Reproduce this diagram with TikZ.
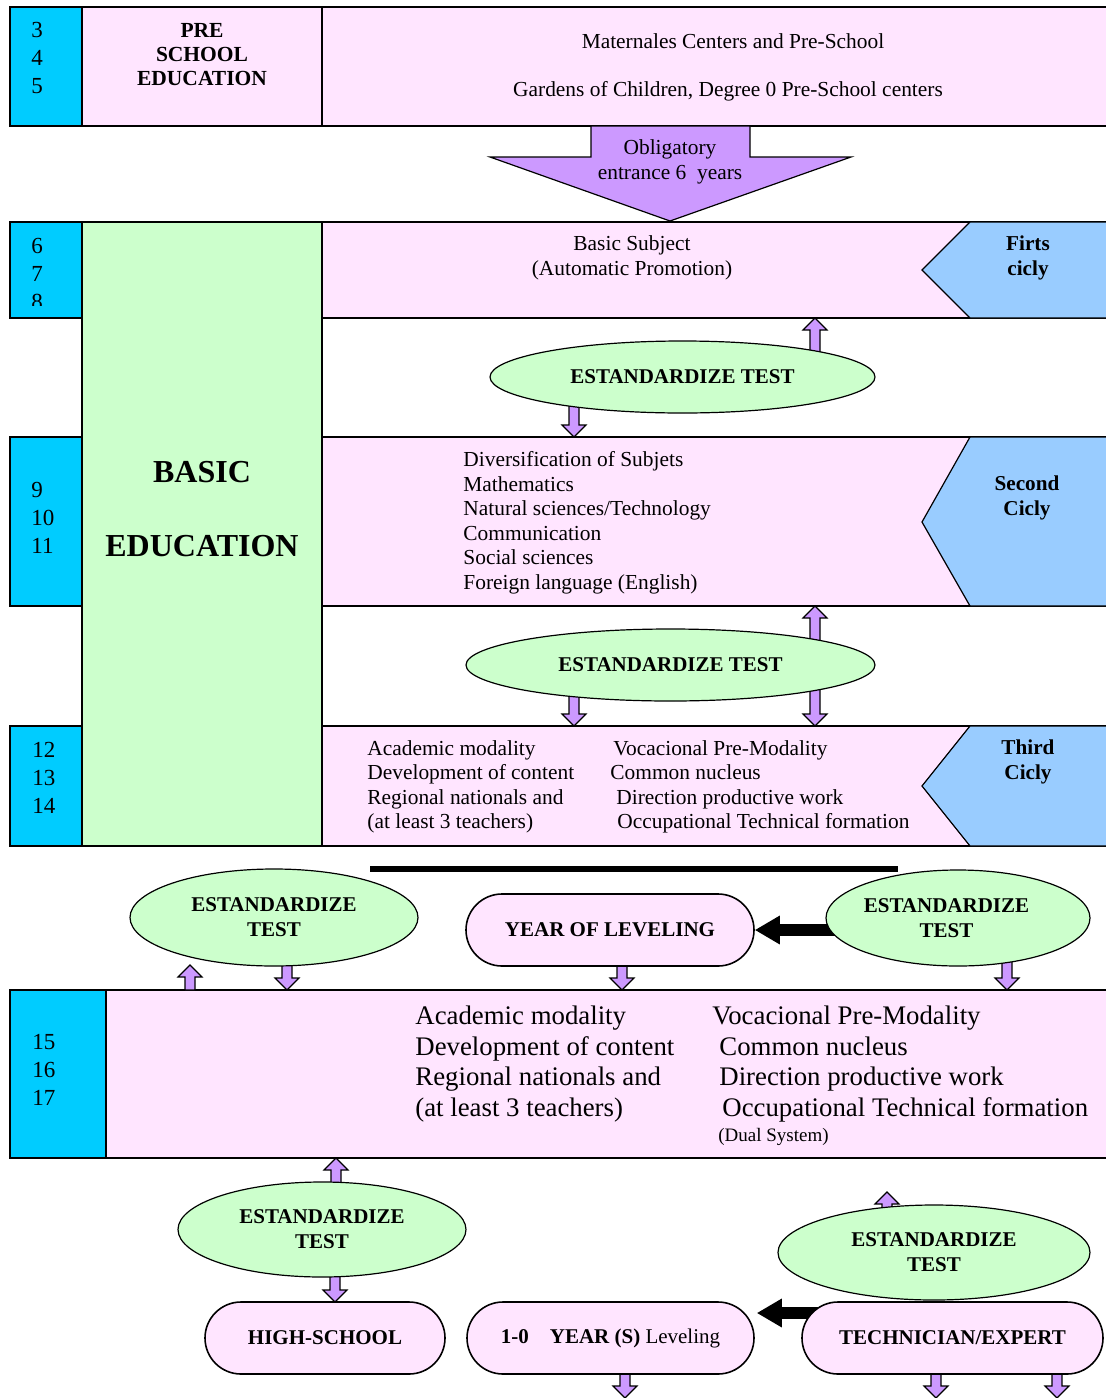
\documentclass[tikz,border=0pt]{standalone}
\usepackage{fontspec}
\setmainfont{Liberation Serif}
\usetikzlibrary{shapes.geometric,arrows.meta,calc}
\definecolor{ageblue}{HTML}{00CCFF}
\definecolor{rowpink}{HTML}{FFE5FF}
\definecolor{basicgreen}{HTML}{CCFFCC}
\definecolor{ciclyblue}{HTML}{99CCFF}
\definecolor{arrowviolet}{HTML}{CC99FF}
\pgfdeclarelayer{bg}
\pgfsetlayers{bg,main}

\tikzset{
  agebox/.style={fill=ageblue,draw=black,line width=1pt},
  rowbox/.style={fill=rowpink,draw=black,line width=1pt},
  ciclybox/.style={fill=ciclyblue,draw=black,line width=0.6pt},
  agetxt/.style={anchor=west,align=left,inner sep=0pt,font=\fontsize{11.5}{14}\selectfont},
  rowtxt/.style={align=center,inner sep=0pt,font=\fontsize{10.7}{12.25}\selectfont},
  listtxt/.style={anchor=west,align=left,inner sep=0pt,font=\fontsize{10.7}{12.25}\selectfont},
  bigtxt/.style={anchor=west,align=left,inner sep=0pt,font=\fontsize{13.4}{15.25}\selectfont},
  ciclytxt/.style={align=center,inner sep=0pt,font=\bfseries\fontsize{10.6}{12.5}\selectfont},
  testlbl/.style={align=center,inner sep=0pt,font=\bfseries\fontsize{10.5}{12.5}\selectfont},
  testoval/.style={ellipse,draw=black,line width=0.6pt,fill=basicgreen,inner sep=0pt,
    align=center,font=\bfseries\fontsize{10.5}{12.5}\selectfont},
  pillbox/.style={rectangle,rounded corners=18pt,draw=black,line width=0.8pt,fill=rowpink,
    minimum height=36pt,inner sep=0pt,font=\bfseries\fontsize{10.5}{12.5}\selectfont},
  blockarrow/.style={fill=arrowviolet,draw=black,line width=0.6pt,line join=miter},
  pusharrow/.style={line width=6pt,-{Triangle[length=12.5pt,width=13.5pt]}}
}

% small block arrows: tip, length (in px)
\newcommand{\downblock}[2]{\filldraw[blockarrow] (#1) -- ++(12,-12) -- ++(-7,0) -- ++(0,-#2+12)
  -- ++(-10,0) -- ++(0,#2-12) -- ++(-7,0) -- cycle;}
\newcommand{\upblock}[2]{\filldraw[blockarrow] (#1) -- ++(12,12) -- ++(-7,0) -- ++(0,#2-12)
  -- ++(-10,0) -- ++(0,-#2+12) -- ++(-7,0) -- cycle;}
\newcommand{\dblblock}[2]{\filldraw[blockarrow] (#1) -- ++(12,12) -- ++(-7,0) -- ++(0,#2-24)
  -- ++(7,0) -- ++(-12,12) -- ++(-12,-12) -- ++(7,0) -- ++(0,-#2+24) -- ++(-7,0) -- cycle;}

\begin{document}
\begin{tikzpicture}[x=0.5pt,y=-0.5pt]
  \useasboundingbox (0,0) rectangle (1105,1398);

  % pre-school row
  \filldraw[agebox] (10,7) rectangle (82,126);
  \filldraw[rowbox] (82,7) rectangle (322,126);
  \filldraw[rowbox] (322,7) rectangle (1112,126);
  \node[agetxt] (age1) at (31,58) {3\\4\\5};
  \node[align=center,inner sep=0pt,font=\bfseries\fontsize{10.75}{12}\selectfont] (pre) at (202,55) {PRE\\SCHOOL\\EDUCATION};
  \node[rowtxt] (mat) at (733,41) {Maternales Centers and Pre-School};
  \node[rowtxt] (gard) at (728,91) {Gardens of Children, Degree 0 Pre-School centers};

  % entrance arrow
  \filldraw[fill=arrowviolet,draw=black,line width=0.6pt] (591,126) -- (750,126) -- (750,157) -- (851,157)
    -- (670,221) -- (490,157) -- (591,157) -- cycle;
  \node[rowtxt] (entr) at (670,162) {Obligatory\\entrance 6~ years};

  % basic education rows
  \filldraw[agebox] (10,222) rectangle (82,318);
  \filldraw[rowbox] (322,222) rectangle (1112,318);
  \filldraw[agebox] (10,437) rectangle (82,606);
  \filldraw[rowbox] (322,437) rectangle (1112,606);
  \filldraw[agebox] (10,726) rectangle (82,846);
  \filldraw[rowbox] (322,726) rectangle (1112,846);
  \filldraw[fill=basicgreen,draw=black,line width=1pt] (82,222) rectangle (322,846);
  \node[font=\bfseries\fontsize{16}{19}\selectfont,inner sep=0pt] (basic) at (202,472) {BASIC};
  \node[font=\bfseries\fontsize{16}{19}\selectfont,inner sep=0pt] (educ) at (202,546) {EDUCATION};

  \begin{scope}
    \clip (10,222) rectangle (82,305);
    \node[agetxt] (age2) at (31,274) {6\\7\\8};
  \end{scope}
  \node[agetxt] (age3) at (31,518) {9\\10\\11};
  \node[agetxt] (age4) at (32,778) {12\\13\\14};

  % cycles
  \filldraw[ciclybox] (1112,222) -- (970,222) -- (922,270) -- (970,318) -- (1112,318);
  \filldraw[ciclybox] (1112,437) -- (970,437) -- (922,522) -- (970,606) -- (1112,606);
  \filldraw[ciclybox] (1112,726) -- (970,726) -- (922,786) -- (970,846) -- (1112,846);
  \node[ciclytxt] (cic1) at (1028,258) {Firts\\cicly};
  \node[ciclytxt] (cic2) at (1027,498) {Second\\Cicly};
  \node[ciclytxt] (cic3) at (1028,762) {Third\\Cicly};

  \node[rowtxt] (basicsub) at (632,258) {Basic Subject\\(Automatic Promotion)};
  \node[listtxt] (divers) at (463,523) {Diversification of Subjets\\Mathematics\\Natural sciences/Technology\\Communication\\Social sciences\\Foreign language (English)};
  \node[listtxt] (acad1) at (367,787) {Academic modality\\Development of content\\Regional nationals and\\(at least 3 teachers)};
  \node[listtxt] (voc1) at (610,787) {\hspace*{1.5pt}Vocacional Pre-Modality\\Common nucleus\\\hspace*{3pt}Direction productive work\\\hspace*{3.5pt}Occupational Technical formation};

  % block arrows between the cycles
  \upblock{815,318}{36}
  \downblock{574,437}{36}
  \dblblock{815,606}{120}
  \downblock{574,726}{32}
  \node[testoval,minimum width=192.5pt,minimum height=36pt] (test1) at (682.5,377) {ESTANDARDIZE TEST};
  \node[testoval,minimum width=204.5pt,minimum height=36pt] (test2) at (670.5,665) {ESTANDARDIZE TEST};

  \draw[line width=3pt] (370,869) -- (898,869);

  % secondary row
  \filldraw[agebox] (10,990) rectangle (106,1158);
  \filldraw[rowbox] (106,990) rectangle (1112,1158);
  \node[agetxt] (age5) at (32,1070) {15\\16\\17};
  \node[bigtxt] (acad2) at (415,1064) {Academic modality\\Development of content\\Regional nationals and\\(at least 3 teachers)};
  \node[bigtxt] (voc2) at (712,1064) {Vocacional Pre-Modality\\\hspace*{3.5pt}Common nucleus\\\hspace*{3.5pt}Direction productive work\\\hspace*{5pt}Occupational Technical formation};
  \node[anchor=west,inner sep=0pt,font=\fontsize{9.5}{11}\selectfont] (dual) at (718,1137) {(Dual System)};

  \upblock{190,965}{25}
  \downblock{287,990}{28}
  \downblock{622,990}{28}
  \downblock{1007,990}{30}
  \upblock{336,1158}{30}
  \downblock{335,1302}{30}
  \upblock{887,1192}{20}
  \downblock{625,1398}{30}
  \downblock{936,1398}{30}
  \downblock{1057,1398}{30}

  \node[testoval,minimum width=144pt,minimum height=48.5pt] (test3) at (274,917.5) {ESTANDARDIZE\\TEST};
  \node[pillbox,minimum width=144pt] (level) at (610,930) {YEAR OF LEVELING};
  \node[testoval,minimum width=132pt,minimum height=48pt,
    label={[testlbl,xshift=-5.75pt]center:ESTANDARDIZE\\TEST}] (test4) at (958,918) {};

  \node[testoval,minimum width=144pt,minimum height=47.5pt] (test5) at (322,1229.5) {ESTANDARDIZE\\TEST};
  \node[testoval,minimum width=156pt,minimum height=47.5pt] (test6) at (934,1252.5) {ESTANDARDIZE\\TEST};
  \node[pillbox,minimum width=120pt] (high) at (325,1338) {HIGH-SCHOOL};
  \node[pillbox,minimum width=143.5pt,font=\fontsize{10.5}{12.5}\selectfont] (lev2) at (610.5,1338) {\textbf{1-0}\quad\textbf{YEAR (S)} Leveling};
  \node[pillbox,minimum width=150.5pt] (tech) at (952.5,1338) {TECHNICIAN/EXPERT};

  % black push arrows
  \begin{pgfonlayer}{bg}
    \draw[pusharrow] (test4.center |- level.east) -- (level.east);
    \draw[pusharrow] ($(tech.center)+(0,-25)$) -- ($(lev2.east)+(2,-25)$);
  \end{pgfonlayer}
\end{tikzpicture}
\end{document}
